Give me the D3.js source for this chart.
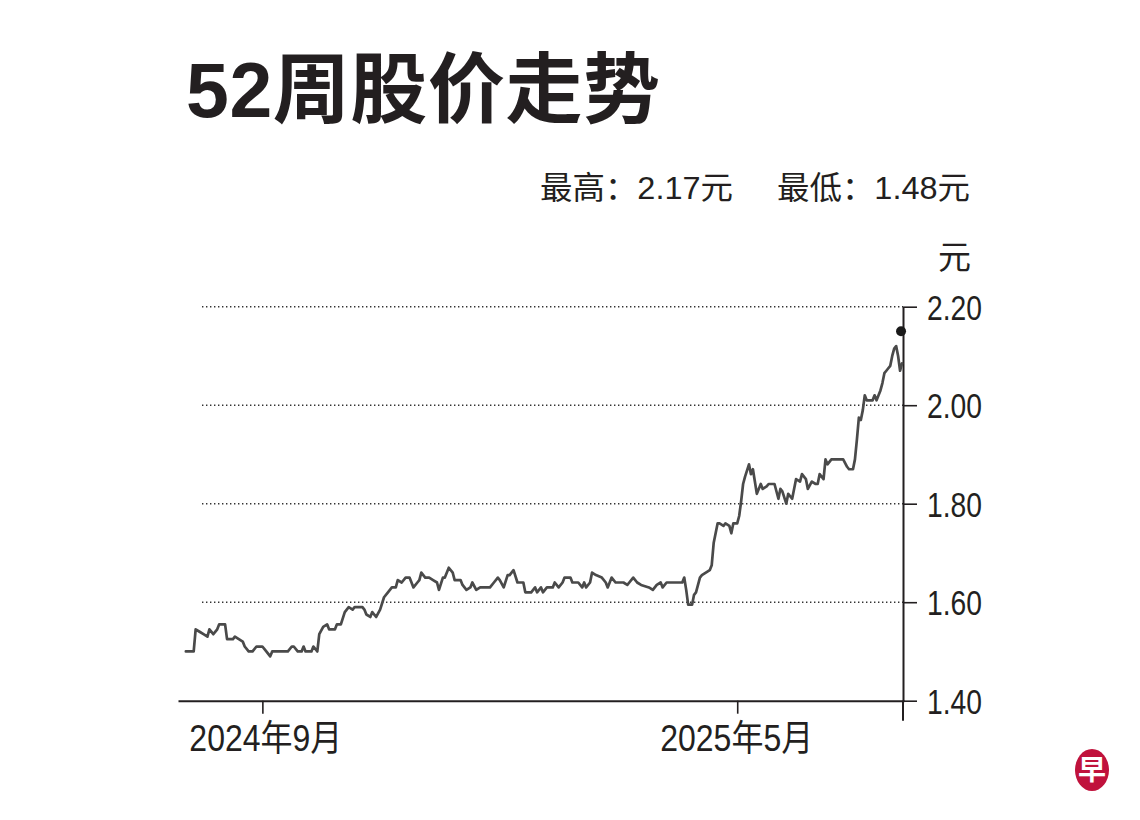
<!DOCTYPE html>
<html>
<head>
<meta charset="utf-8">
<script src="https://cdn.jsdelivr.net/npm/d3@7"></script>
<style>
  body { margin: 0; background: #fff; }
  svg { display: block; }
  text { font-family: "Liberation Sans", "Noto Sans CJK SC", sans-serif; fill: #231f20; }
</style>
</head>
<body>
<svg id="chart" width="1140" height="820"></svg>
<script>
const titleText = "52周股价走势";
const highText = "最高：2.17元";
const lowText = "最低：1.48元";
const unitText = "元";
const yTicks = [1.40, 1.60, 1.80, 2.00, 2.20];
const gridValues = [1.60, 1.80, 2.00, 2.20];
const xTickDates = ["2024-09-01", "2025-05-01"];
const xTickLabels = ["2024年9月", "2025年5月"];
const xDomain = ["2024-07-20", "2025-07-25"];
const yDomain = [1.40, 2.20];
const markerDate = "2025-07-24";
const markerValue = 2.15;

const dates = [
"2024-07-24","2024-07-28","2024-07-29","2024-07-31","2024-08-02","2024-08-04","2024-08-05","2024-08-07","2024-08-09","2024-08-10",
"2024-08-13","2024-08-14","2024-08-17","2024-08-18","2024-08-20","2024-08-22","2024-08-23","2024-08-25","2024-08-27","2024-08-29",
"2024-09-01","2024-09-03","2024-09-05","2024-09-06","2024-09-14","2024-09-16","2024-09-17","2024-09-19","2024-09-21","2024-09-22",
"2024-09-23","2024-09-26","2024-09-27","2024-09-29","2024-09-30","2024-10-02","2024-10-04","2024-10-05","2024-10-08","2024-10-09",
"2024-10-11","2024-10-13","2024-10-15","2024-10-17","2024-10-18","2024-10-22","2024-10-23","2024-10-24","2024-10-26","2024-10-27",
"2024-10-29","2024-10-31","2024-11-02","2024-11-04","2024-11-06","2024-11-08","2024-11-09","2024-11-11","2024-11-13","2024-11-15",
"2024-11-17","2024-11-19","2024-11-20","2024-11-21","2024-11-23","2024-11-25","2024-11-27","2024-11-29","2024-11-30","2024-12-02",
"2024-12-03","2024-12-05","2024-12-07","2024-12-08","2024-12-11","2024-12-12","2024-12-14","2024-12-16","2024-12-17","2024-12-19",
"2024-12-21","2024-12-26","2024-12-28","2024-12-30","2024-12-31","2025-01-02","2025-01-04","2025-01-05","2025-01-07","2025-01-09",
"2025-01-12","2025-01-13","2025-01-16","2025-01-18","2025-01-19","2025-01-21","2025-01-22","2025-01-24","2025-01-27","2025-01-28",
"2025-01-30","2025-02-01","2025-02-02","2025-02-05","2025-02-06","2025-02-09","2025-02-11","2025-02-12","2025-02-13","2025-02-15",
"2025-02-16","2025-02-18","2025-02-21","2025-02-23","2025-02-24","2025-02-26","2025-02-28","2025-03-04","2025-03-06","2025-03-07",
"2025-03-09","2025-03-11","2025-03-13","2025-03-17","2025-03-19","2025-03-21","2025-03-23","2025-03-24","2025-03-26","2025-04-03",
"2025-04-04","2025-04-05","2025-04-06","2025-04-08","2025-04-09","2025-04-10","2025-04-12","2025-04-13","2025-04-15","2025-04-17",
"2025-04-18","2025-04-19","2025-04-21","2025-04-22","2025-04-24","2025-04-25","2025-04-27","2025-04-28","2025-04-29","2025-05-01",
"2025-05-02","2025-05-03","2025-05-04","2025-05-05","2025-05-07","2025-05-08","2025-05-09","2025-05-10","2025-05-11","2025-05-13",
"2025-05-14","2025-05-16","2025-05-17","2025-05-20","2025-05-22","2025-05-23","2025-05-24","2025-05-26","2025-05-27","2025-05-29",
"2025-05-31","2025-06-02","2025-06-03","2025-06-05","2025-06-06","2025-06-08","2025-06-10","2025-06-11","2025-06-12","2025-06-14",
"2025-06-15","2025-06-16","2025-06-18","2025-06-24","2025-06-26","2025-06-27","2025-06-29","2025-06-30","2025-07-01","2025-07-02",
"2025-07-03","2025-07-04","2025-07-05","2025-07-06","2025-07-08","2025-07-09","2025-07-10","2025-07-11","2025-07-13","2025-07-14",
"2025-07-15","2025-07-16","2025-07-17","2025-07-18","2025-07-19","2025-07-20","2025-07-21","2025-07-22","2025-07-23","2025-07-24"
];
const prices = [
1.50,1.50,1.545,1.54,1.535,1.53,1.545,1.535,1.545,1.555,
1.555,1.525,1.525,1.53,1.525,1.52,1.51,1.50,1.50,1.51,
1.51,1.50,1.49,1.50,1.50,1.51,1.51,1.50,1.50,1.51,
1.50,1.50,1.51,1.50,1.535,1.55,1.555,1.545,1.545,1.555,
1.555,1.58,1.59,1.585,1.59,1.59,1.585,1.575,1.57,1.58,
1.57,1.585,1.61,1.62,1.63,1.63,1.645,1.64,1.65,1.65,
1.63,1.64,1.645,1.66,1.65,1.65,1.645,1.64,1.625,1.65,
1.65,1.67,1.66,1.645,1.645,1.635,1.625,1.63,1.64,1.625,
1.63,1.63,1.64,1.65,1.645,1.63,1.655,1.655,1.665,1.64,
1.64,1.62,1.62,1.63,1.62,1.63,1.62,1.63,1.63,1.64,
1.63,1.64,1.65,1.65,1.64,1.64,1.63,1.64,1.63,1.64,
1.66,1.655,1.65,1.64,1.63,1.65,1.64,1.64,1.635,1.64,
1.65,1.64,1.635,1.63,1.625,1.635,1.64,1.63,1.64,1.64,
1.65,1.625,1.595,1.595,1.615,1.62,1.65,1.655,1.66,1.665,
1.675,1.72,1.76,1.76,1.755,1.76,1.755,1.74,1.76,1.76,
1.775,1.805,1.84,1.855,1.88,1.86,1.87,1.845,1.82,1.84,
1.83,1.835,1.84,1.84,1.81,1.83,1.825,1.80,1.82,1.81,
1.85,1.845,1.86,1.85,1.83,1.845,1.84,1.84,1.86,1.85,
1.89,1.88,1.89,1.89,1.875,1.87,1.87,1.89,1.93,1.975,
1.97,1.99,2.02,2.01,2.01,2.01,2.02,2.01,2.03,2.045,
2.065,2.07,2.075,2.08,2.10,2.115,2.12,2.10,2.07,2.085
];

const parse = d3.timeParse("%Y-%m-%d");
const svg = d3.select("#chart");
svg.append("rect").attr("width", 1140).attr("height", 820).attr("fill", "#fff");

const x = d3.scaleTime().domain(xDomain.map(parse)).range([178, 904]);
const y = d3.scaleLinear().domain(yDomain).range([700.7, 306.7]);

// Title
svg.append("text").attr("x", 186).attr("y", 117)
  .attr("font-size", 77).attr("font-weight", 700)
  .attr("textLength", 474).attr("lengthAdjust", "spacing")
  .text(titleText);

// High / Low
svg.append("text").attr("x", 540).attr("y", 199).attr("font-size", 32)
  .attr("textLength", 193).attr("lengthAdjust", "spacingAndGlyphs").text(highText);
svg.append("text").attr("x", 777).attr("y", 199).attr("font-size", 32)
  .attr("textLength", 193).attr("lengthAdjust", "spacingAndGlyphs").text(lowText);

// Unit
svg.append("text").attr("x", 938).attr("y", 269).attr("font-size", 33).text(unitText);

// Gridlines
svg.append("g").selectAll("line").data(gridValues).join("line")
  .attr("x1", 202).attr("x2", 903)
  .attr("y1", d => y(d)).attr("y2", d => y(d))
  .attr("stroke", "#333").attr("stroke-width", 1.4)
  .attr("stroke-dasharray", "1.4,2.6");

// X axis
const xLabelShift = [3, -1];
const xAxis = d3.axisBottom(x)
  .tickValues(xTickDates.map(parse))
  .tickSize(13).tickSizeOuter(0)
  .tickFormat((d, i) => xTickLabels[i]);
const gx = svg.append("g").attr("transform", `translate(0,${y(yDomain[0])})`).call(xAxis);
gx.select(".domain").attr("stroke", "#231f20").attr("stroke-width", 2);
gx.selectAll(".tick line").attr("stroke", "#231f20").attr("stroke-width", 1.6);
gx.selectAll(".tick text")
  .attr("font-size", 36).attr("font-family", "'Liberation Sans','Noto Sans CJK SC',sans-serif")
  .attr("fill", "#231f20").attr("y", 50).attr("dy", 0).attr("dx", (d, i) => xLabelShift[i])
  .attr("textLength", 153).attr("lengthAdjust", "spacingAndGlyphs");

// Y axis
const yAxis = d3.axisRight(y)
  .tickValues(yTicks).tickSize(14).tickSizeOuter(0)
  .tickFormat(d3.format(".2f"));
const gy = svg.append("g").attr("transform", "translate(903,0)").call(yAxis);
gy.select(".domain").attr("stroke", "#231f20").attr("stroke-width", 2);
gy.selectAll(".tick line").attr("stroke", "#231f20").attr("stroke-width", 1.6);
gy.selectAll(".tick text")
  .attr("font-size", 35).attr("font-family", "'Liberation Sans',sans-serif")
  .attr("fill", "#231f20").attr("x", 24).attr("dy", "0.36em")
  .attr("textLength", 55).attr("lengthAdjust", "spacingAndGlyphs");
// axis extension below the baseline
svg.append("line").attr("x1", 903).attr("x2", 903)
  .attr("y1", y(yDomain[0])).attr("y2", y(yDomain[0]) + 20)
  .attr("stroke", "#231f20").attr("stroke-width", 2);

// Price line
const series = dates.map((d, i) => ({ date: parse(d), value: prices[i] }));
const line = d3.line().x(d => x(d.date)).y(d => y(d.value));
svg.append("path").datum(series)
  .attr("d", line).attr("fill", "none")
  .attr("stroke", "#4a4a4a").attr("stroke-width", 2.7)
  .attr("stroke-linejoin", "round").attr("stroke-linecap", "round");

// Marker dot
svg.append("circle")
  .attr("cx", x(parse(markerDate)) - 1).attr("cy", y(markerValue))
  .attr("r", 5).attr("fill", "#1a1a1a");

// Logo
const logo = svg.append("g").attr("transform", "translate(1092,770)");
logo.append("ellipse").attr("rx", 17).attr("ry", 21).attr("fill", "#c0123c");
logo.append("text").attr("text-anchor", "middle").attr("y", 10)
  .attr("font-size", 28).attr("font-weight", 700)
  .attr("font-family", "'Noto Sans CJK SC',sans-serif")
  .style("fill", "#fff").text("早");
</script>
</body>
</html>
